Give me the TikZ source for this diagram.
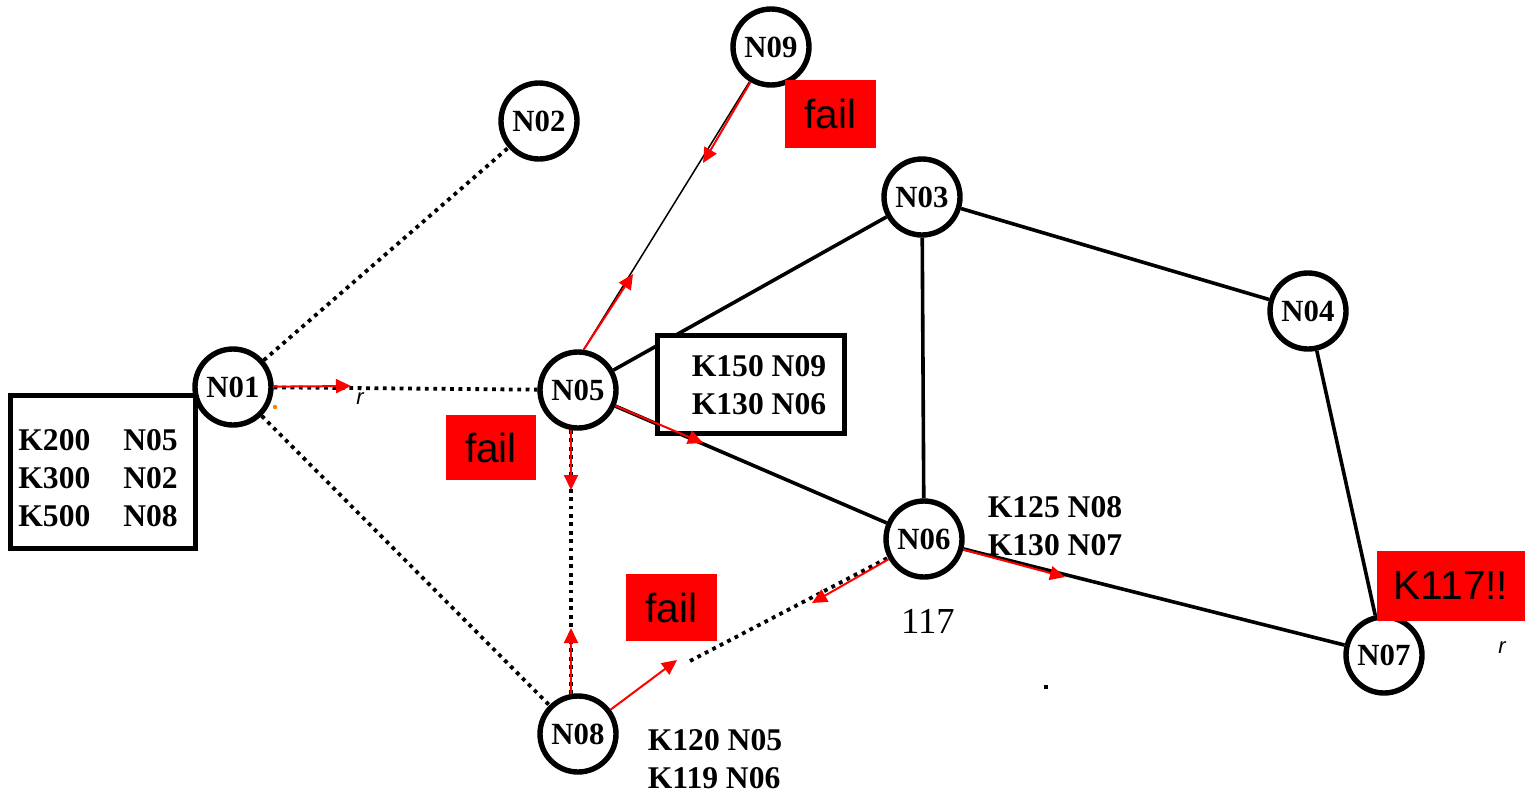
\documentclass[tikz,border=0pt]{standalone}
\usepackage{fontspec}
\setmainfont{Liberation Serif}
\newfontfamily\labelsans{Liberation Sans}
\usetikzlibrary{arrows.meta,backgrounds}

\tikzset{
  router/.style={circle, draw, line width=2.7pt, fill=white, inner sep=0pt,
    minimum size=38pt, font=\fontsize{15.4}{18}\selectfont\bfseries},
  tablebox/.style={draw, line width=2.5pt, fill=white, inner sep=0pt},
  tabletext/.style={inner sep=0pt, align=left, font=\fontsize{15.8}{19}\selectfont\bfseries},
  failbox/.style={fill=red, inner sep=0pt, font=\labelsans\fontsize{20.3}{24}\selectfont},
  link/.style={line width=1.8pt},
  thinlink/.style={line width=0.75pt},
  weak/.style={line width=1.9pt, dash pattern=on 1.9pt off 2.3pt},
  flow/.style={red, line width=1pt, -{Triangle[length=7.5pt,width=7pt]}},
  note/.style={inner sep=0pt, font=\fontsize{18.3}{22}\selectfont},
  tiny/.style={inner sep=0pt, font=\labelsans\itshape\fontsize{11}{13}\selectfont}
}

\begin{document}
\begin{tikzpicture}[x=0.5pt, y=-0.5pt]
  \path[use as bounding box] (0,0) rectangle (1525,793);

  % routing table of N01 (sits behind the N01 circle)
  \node[tablebox, minimum width=92.5pt, minimum height=76.5pt] (t01) at (102.5,471.5) {};
  \node[tabletext, anchor=west] (t01txt) at (18,481) {%
    \begin{tabular}{@{}l@{\hspace{16.5pt}}l@{}}
      K200 & N05\\ K300 & N02\\ K500 & N08
    \end{tabular}};

  % routers
  \node[router] (n01) at (233,387) {N01};
  \node[router] (n02) at (539,121) {N02};
  \node[router] (n03) at (922,197) {N03};
  \node[router] (n04) at (1308,311) {N04};
  \node[router] (n05) at (578,390) {N05};
  \node[router] (n06) at (924,539) {N06};
  \node[router] (n07) at (1384,655) {N07};
  \node[router] (n08) at (578,734) {N08};
  \node[router] (n09) at (771,47) {N09};

  % routing table of N05
  \node[tablebox, minimum width=93.5pt, minimum height=49pt] (t05) at (750.5,384) {};
  \node[tabletext] (t05txt) at (759,385) {K150 N09\\K130 N06};

  % links
  \begin{pgfonlayer}{background}
    \draw[weak] (n01) -- (n02);
    \draw[weak] (n01) -- (n05);
    \draw[weak] (n01) -- (n08);
    \draw[weak] (n05.-100) -- (n08.100);
    \coordinate (d1) at (690,661);
    \draw[weak] (d1) -- (n06);
    \draw[thinlink] (n05.82) -- (n09);
    \draw[link] (n05) -- (n03);
    \draw[link] (n05) -- (n06);
    \draw[link] (n03) -- (n06);
    \draw[link] (n03) -- (n04);
    \draw[link] (n04) -- (n07);
    \draw[link] (n06) -- (n07);
  \end{pgfonlayer}

  % forwarded messages
  \coordinate (f1) at (351,386);
  \coordinate (f2) at (633,274);
  \coordinate (f3) at (703,163);
  \coordinate (f4) at (703,443);
  \coordinate (f5) at (571,490);
  \coordinate (f6) at (571,628);
  \coordinate (f7) at (677,660);
  \coordinate (f8) at (812,603);
  \coordinate (f9) at (1065,577);
  \draw[flow] (n01) -- (f1);
  \draw[flow] (n05.82) -- (f2);
  \draw[flow] (n09) -- (f3);
  \draw[flow] (n05) -- (f4);
  \draw[flow] (n05.-100) -- (f5);
  \draw[flow] (n08.100) -- (f6);
  \draw[flow] (n08) -- (f7);
  \draw[flow] (n06) -- (f8);
  \draw[flow] (n06) -- (f9);

  % tables printed next to N06 and N08
  \node[tabletext] (t06txt) at (1055,526) {K125 N08\\K130 N07};
  \node[tabletext] (t08txt) at (715,759) {K120 N05\\K119 N06};
  \node[note] (k117) at (928,621) {117};

  % failure marks
  \node[failbox, minimum width=45pt, minimum height=32.5pt] (fail05) at (491,447.5) {fail};
  \node[failbox, minimum width=45.5pt, minimum height=34pt] (fail09) at (830.5,113.5) {fail};
  \node[failbox, minimum width=45.5pt, minimum height=33.5pt] (fail08) at (671.5,607.5) {fail};
  \node[failbox, minimum width=74pt, minimum height=35pt] (hit) at (1451,586) {K117!!};

  % stray marks
  \node[tiny] (r1) at (360,399) {r};
  \node[tiny] (r2) at (1502,648) {r};
  \fill[orange] (275,407) circle (1.1pt);
  \fill (1044,685) rectangle (1048,689);
\end{tikzpicture}
\end{document}
